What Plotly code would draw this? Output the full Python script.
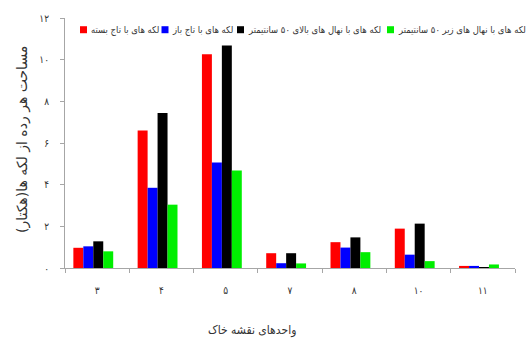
import plotly.graph_objects as go

# Soil map units (Persian digits) and patch-area series, in hectares
units = ["۳", "۴", "۵", "۷", "۸", "۱۰", "۱۱"]

closed_canopy = [0.97, 6.60, 10.26, 0.71, 1.24, 1.89, 0.10]
open_canopy = [1.04, 3.85, 5.07, 0.23, 0.98, 0.64, 0.10]
seedlings_over_50 = [1.28, 7.44, 10.68, 0.71, 1.47, 2.13, 0.04]
seedlings_under_50 = [0.80, 3.04, 4.68, 0.22, 0.76, 0.33, 0.17]

series_names = [
    "لکه های با تاج بسته",
    "لکه های با تاج باز",
    "لکه های با نهال های بالای ۵۰ سانتیمتر",
    "لکه های با نهال های زیر ۵۰ سانتیمتر",
]
series_values = [closed_canopy, open_canopy, seedlings_over_50, seedlings_under_50]
colors = ["#ff0000", "#0000ff", "#000000", "#00ee00"]

y_tickvals = [0, 2, 4, 6, 8, 10, 12]
y_ticktext = ["۰", "۲", "۴", "۶", "۸", "۱۰", "۱۲"]

y_title = "مساحت هر رده از لکه ها(هکتار)"
x_title = "واحدهای نقشه خاک"

FONT = "DejaVu Sans Condensed, DejaVu Sans"
FONT_WIDE = "DejaVu Sans"
W, H = 527, 345
ML, MR, MT, MB = 65, 12, 12, 77
PW, PH = W - ML - MR, H - MT - MB


def px_x(p):
    return (p - ML) / PW


def px_y(p):
    return (H - MB - p) / PH


BAR_W = 0.155
START = -0.37

fig = go.Figure()
for i, (name, vals, col) in enumerate(zip(series_names, series_values, colors)):
    fig.add_trace(
        go.Bar(
            x=units,
            y=vals,
            name=name,
            marker=dict(color=col, line=dict(width=0)),
            width=BAR_W,
            offset=START + i * BAR_W,
            showlegend=False,
        )
    )

axis_gray = "#a6a6a6"
fig.update_layout(
    width=W,
    height=H,
    margin=dict(l=ML, r=MR, t=MT, b=MB),
    paper_bgcolor="white",
    plot_bgcolor="white",
    barmode="overlay",
    font=dict(family=FONT, color="#333333", size=10),
    xaxis=dict(
        type="category",
        tickson="boundaries",
        ticks="outside",
        ticklen=4,
        tickcolor=axis_gray,
        showline=True,
        linecolor=axis_gray,
        linewidth=1,
        showgrid=False,
        tickfont=dict(size=10, family=FONT, color="#333333"),
        ticklabelstandoff=13,
    ),
    yaxis=dict(
        range=[0, 12],
        tickvals=y_tickvals,
        ticktext=y_ticktext,
        ticks="outside",
        ticklen=4,
        tickcolor=axis_gray,
        showline=True,
        linecolor=axis_gray,
        linewidth=1,
        showgrid=False,
        zeroline=False,
        tickfont=dict(size=10, family=FONT, color="#333333"),
        ticklabelstandoff=9,
    ),
)

annotations = [
    dict(
        text=y_title,
        x=px_x(22),
        y=px_y(137),
        xref="paper",
        yref="paper",
        textangle=-90,
        showarrow=False,
        xanchor="center",
        yanchor="middle",
        font=dict(size=14, family=FONT_WIDE, color="#333333"),
    ),
    dict(
        text=x_title,
        x=px_x(252),
        y=px_y(332),
        xref="paper",
        yref="paper",
        showarrow=False,
        xanchor="center",
        yanchor="middle",
        font=dict(size=12, family=FONT, color="#333333"),
    ),
]

# Legend row: colour swatch followed by its label
swatch_left = [80, 161.5, 237, 387]
legend_y = 24
shapes = []
for name, col, sx in zip(series_names, colors, swatch_left):
    shapes.append(
        dict(
            type="rect",
            xref="paper",
            yref="paper",
            xsizemode="pixel",
            ysizemode="pixel",
            xanchor=px_x(sx),
            yanchor=px_y(legend_y),
            x0=0,
            x1=7,
            y0=-3.5,
            y1=3.5,
            fillcolor=col,
            line=dict(width=0),
        )
    )
    annotations.append(
        dict(
            text=name,
            x=px_x(sx + 8.5),
            y=px_y(legend_y),
            xref="paper",
            yref="paper",
            showarrow=False,
            xanchor="left",
            yanchor="middle",
            font=dict(size=9.4, family=FONT, color="#333333"),
        )
    )

fig.update_layout(annotations=annotations, shapes=shapes)

fig.write_html("out.html")
